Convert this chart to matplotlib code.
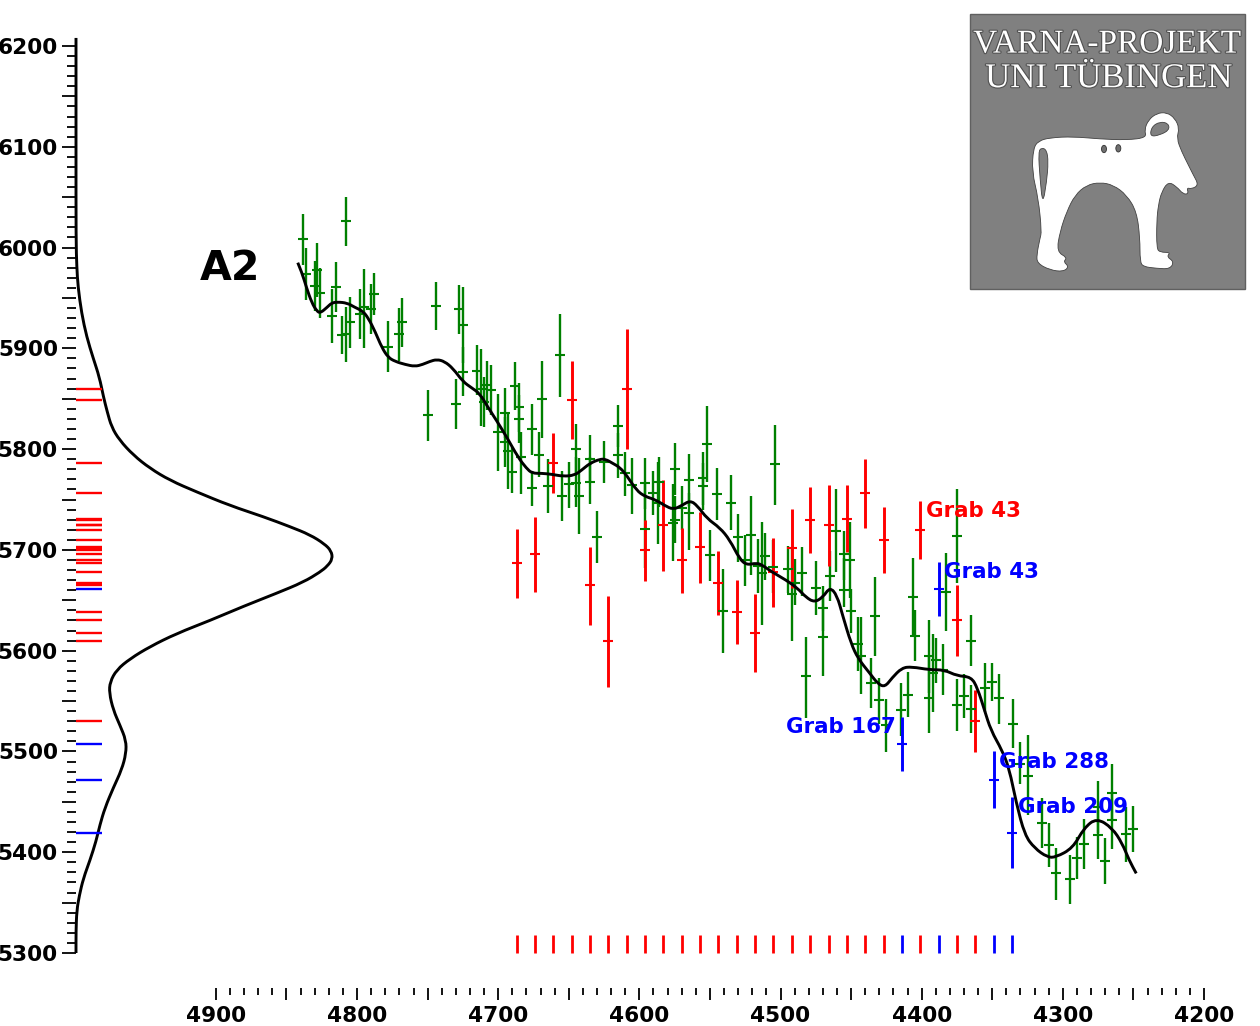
# Varna A2 dates: sequence plot with density curve on the left

import numpy as np
from matplotlib import pyplot as plt
from matplotlib.patches import PathPatch, Rectangle, Ellipse
from matplotlib.path import Path
import matplotlib.patheffects as pe

# green dates: x value, top of bar, point, bottom of bar
green_x = [4838, 4836, 4830, 4828.5, 4826, 4818, 4815, 4811, 4808, 4808, 4805, 4798, 4795, 4790, 4788,
           4778, 4770, 4768, 4750, 4744, 4730, 4728, 4725, 4725, 4715, 4712, 4710, 4708, 4705, 4700,
           4695, 4695, 4693, 4690, 4688, 4685, 4685, 4684, 4676, 4676, 4671, 4669, 4665, 4656.5, 4655,
           4650, 4645, 4645, 4643, 4635, 4635, 4630, 4625, 4615, 4615, 4610, 4605, 4596, 4596, 4590,
           4587, 4586, 4575, 4576, 4575, 4570, 4565, 4565, 4555, 4555, 4552, 4550, 4545, 4541, 4535,
           4530, 4525, 4521, 4516, 4513, 4511, 4504, 4505, 4495, 4492, 4490, 4485, 4482, 4475, 4470,
           4470, 4465, 4461, 4455, 4455, 4451, 4450, 4445, 4443, 4436, 4433, 4430, 4425, 4415, 4410,
           4406, 4405, 4395, 4395, 4392, 4390, 4385, 4383, 4375, 4375, 4370, 4365, 4365, 4355, 4350,
           4345, 4335, 4330, 4325, 4315, 4310, 4305, 4295, 4290, 4285, 4275, 4275, 4270, 4265, 4265,
           4255, 4250]
green_hi = [6033, 6000, 5987, 6005, 5980, 5959, 5986, 5932, 6050, 5941, 5951, 5959, 5979, 5964, 5975,
            5927, 5940, 5950, 5859, 5966, 5870, 5963, 5961, 5901, 5903, 5899, 5872, 5887, 5883, 5855,
            5861, 5832, 5836, 5802, 5886, 5866, 5854, 5817, 5845, 5778, 5817, 5887, 5790, 5934, 5778,
            5787, 5825, 5792, 5791, 5814, 5792, 5739, 5808, 5844, 5816, 5797, 5791, 5791, 5766, 5778,
            5787, 5792, 5806, 5765, 5753, 5763, 5795, 5756, 5797, 5786, 5843, 5720, 5781, 5681, 5774,
            5736, 5715, 5753, 5711, 5728, 5717, 5824, 5710, 5704, 5703, 5691, 5703, 5614, 5689, 5664,
            5653, 5699, 5760, 5719, 5692, 5728, 5661, 5633, 5633, 5593, 5673, 5573, 5552, 5568, 5579,
            5692, 5640, 5630, 5594, 5617, 5613, 5607, 5697, 5760, 5572, 5577, 5635, 5566, 5588, 5588,
            5577, 5552, 5509, 5516, 5454, 5429, 5404, 5397, 5415, 5433, 5471, 5442, 5414, 5488, 5459,
            5445, 5446]
green_mid = [6008, 5974, 5962, 5978, 5955, 5932, 5961, 5913, 6026, 5914, 5926, 5934, 5941, 5939, 5954,
             5901, 5914, 5926, 5834, 5942, 5845, 5939, 5923, 5877, 5878, 5860, 5847, 5864, 5859, 5817,
             5836, 5807, 5798, 5777, 5863, 5842, 5830, 5792, 5820, 5761, 5794, 5850, 5763, 5893, 5753,
             5765, 5800, 5766, 5753, 5790, 5767, 5713, 5787, 5823, 5794, 5776, 5764, 5766, 5721, 5756,
             5747, 5767, 5780, 5727, 5730, 5742, 5769, 5737, 5771, 5763, 5805, 5695, 5755, 5639, 5747,
             5713, 5690, 5715, 5684, 5677, 5694, 5785, 5683, 5681, 5656, 5667, 5677, 5575, 5662, 5642,
             5614, 5674, 5719, 5696, 5660, 5690, 5639, 5607, 5595, 5568, 5634, 5551, 5526, 5541, 5556,
             5653, 5615, 5595, 5553, 5578, 5591, 5581, 5658, 5714, 5546, 5555, 5610, 5542, 5563, 5569,
             5553, 5527, 5488, 5476, 5429, 5407, 5379, 5373, 5394, 5408, 5445, 5417, 5391, 5459, 5432,
             5418, 5423]
green_lo = [5983, 5948, 5937, 5951, 5930, 5905, 5936, 5894, 6002, 5886, 5900, 5909, 5900, 5914, 5933,
            5877, 5887, 5901, 5808, 5918, 5820, 5914, 5885, 5853, 5854, 5823, 5822, 5839, 5834, 5778,
            5811, 5782, 5760, 5756, 5839, 5817, 5806, 5755, 5794, 5744, 5772, 5811, 5737, 5852, 5729,
            5742, 5775, 5743, 5716, 5766, 5746, 5687, 5766, 5802, 5771, 5753, 5736, 5741, 5682, 5735,
            5706, 5743, 5754, 5689, 5707, 5720, 5744, 5700, 5745, 5740, 5767, 5669, 5730, 5598, 5720,
            5688, 5664, 5675, 5657, 5625, 5670, 5745, 5657, 5657, 5610, 5645, 5654, 5533, 5635, 5620,
            5575, 5649, 5678, 5670, 5643, 5652, 5618, 5580, 5557, 5543, 5595, 5527, 5499, 5515, 5534,
            5614, 5590, 5558, 5518, 5539, 5568, 5556, 5620, 5667, 5520, 5533, 5585, 5518, 5539, 5550,
            5527, 5503, 5468, 5437, 5404, 5385, 5353, 5349, 5373, 5383, 5419, 5393, 5368, 5432, 5403,
            5390, 5400]

# red and blue graves, these also give the rugs on both axes
red_x = [4687, 4674, 4661, 4648, 4635, 4622, 4609, 4596, 4583, 4570, 4557, 4544, 4531, 4518, 4505,
         4492, 4479, 4466, 4453, 4440, 4427, 4401, 4375, 4362]
red_hi = [5721, 5733, 5816, 5887, 5703, 5654, 5919, 5730, 5769, 5722, 5738, 5699, 5670, 5656, 5712,
          5741, 5762, 5764, 5764, 5790, 5743, 5749, 5665, 5561]
red_mid = [5687, 5696, 5786, 5849, 5665, 5610, 5860, 5700, 5725, 5690, 5703, 5667, 5638, 5618, 5678,
           5702, 5730, 5725, 5731, 5756, 5710, 5720, 5630, 5530]
red_lo = [5652, 5658, 5756, 5810, 5625, 5564, 5800, 5669, 5679, 5657, 5667, 5635, 5607, 5579, 5643,
          5662, 5697, 5684, 5698, 5722, 5677, 5691, 5595, 5499]

blue_x = [4414, 4388, 4349, 4336]
blue_hi = [5534, 5688, 5500, 5455]
blue_mid = [5507, 5661, 5472, 5419]
blue_lo = [5481, 5634, 5444, 5384]

# black sequence curve
curve_x = [4842, 4839, 4836, 4832, 4828.5, 4826, 4821, 4818, 4814, 4807, 4802, 4796, 4792, 4787, 4782.5,
           4778, 4773, 4766, 4759, 4753.5, 4748.5, 4743.5, 4738, 4732, 4725, 4719, 4713, 4707.5, 4701, 4694,
           4686, 4680, 4676, 4669, 4662, 4654, 4646, 4641, 4635, 4628, 4624, 4619, 4614, 4609, 4602,
           4596, 4589, 4582, 4576, 4570, 4564, 4559, 4552, 4543, 4536, 4529, 4524, 4517, 4513, 4506,
           4496, 4488, 4482, 4476, 4470, 4465, 4460, 4456, 4450, 4445, 4437, 4431, 4426, 4421, 4414,
           4407, 4394.5, 4384, 4375, 4365, 4360.5, 4355.5, 4351, 4343, 4338, 4333, 4327, 4320, 4311, 4305,
           4293, 4285, 4276, 4265, 4258, 4253, 4248]
curve_y = [5985, 5975, 5961, 5945, 5937, 5935, 5941, 5945, 5946, 5945, 5941, 5937, 5930, 5916, 5901,
           5891, 5887, 5884, 5882, 5884, 5887, 5889, 5887, 5880, 5867, 5861, 5855, 5842, 5828, 5812,
           5792, 5781, 5776, 5776, 5775, 5773, 5774, 5779, 5786, 5790, 5790, 5786, 5782, 5774, 5759,
           5753, 5750, 5744, 5740, 5744, 5749, 5744, 5731, 5722, 5710, 5691, 5685, 5687, 5685, 5678,
           5670, 5662, 5653, 5648, 5653, 5663, 5655, 5635, 5607, 5592, 5578, 5567, 5564, 5573, 5583,
           5584, 5581, 5581, 5575, 5574, 5563, 5541, 5521, 5501, 5483, 5449, 5417, 5404, 5395, 5395,
           5404, 5424, 5434, 5424, 5409, 5392, 5379]

# density curve on the left, peak = 1
dens_y = [6208, 6100, 6008, 5981, 5961, 5935, 5911.5, 5890, 5871.5, 5852, 5837, 5822, 5809, 5794, 5781,
          5769, 5757.5, 5744, 5733, 5723, 5715, 5706, 5699, 5691, 5684, 5678, 5668, 5657, 5644, 5630, 5617,
          5604, 5592, 5581, 5569, 5558, 5541, 5526, 5511, 5498, 5482, 5464, 5444, 5427, 5411, 5392,
          5374, 5357, 5342, 5322, 5300]
dens_v = [0, 0, 0, .003, .008, .022, .042, .068, .092, .108, .123, .14, .171, .226, .291,
          .37, .475, .606, .737, .843, .921, .978, 1.005, 1.01, .99, .961, .895, .79, .659, .528, .396,
          .291, .213, .16, .134, .131, .147, .173, .197, .197, .18, .147, .114, .094, .079, .055,
          .029, .013, .003, 0, 0]

x_ticks = list(range(4900, 4199, -50))
x_labels = [str(v) if v % 100 == 0 else '' for v in x_ticks]
y_ticks = list(range(5300, 6201, 50))
y_labels = [str(v) if v % 100 == 0 else '' for v in y_ticks]

grabs = ['Grab 43', 'Grab 43', 'Grab 167', 'Grab 288', 'Grab 209']
grab_x = [4396.6, 4384, 4496, 4345, 4332]
grab_y = [5739, 5678, 5524, 5490, 5445]
grab_col = ['red', 'blue', 'blue', 'blue', 'blue']

plt.rcParams['font.family'] = 'DejaVu Sans'
plt.rcParams['font.weight'] = 'bold'

W, H = 1260, 1026
fig = plt.figure(figsize=(W / 100, H / 100), dpi=100)


def box(left, top, right, bottom):
    # figure fractions from pixel edges
    return [left / W, 1 - bottom / H, (right - left) / W, (bottom - top) / H]


def soft_line(axes, xs, ys, closed=False, **kw):
    # draw through the points with quadratic pieces so no corners show
    pts = list(zip(xs, ys))
    if closed:
        pts = pts + pts[:2]
    mids = [((a[0] + b[0]) / 2, (a[1] + b[1]) / 2) for a, b in zip(pts[:-1], pts[1:])]
    start = mids[0] if closed else pts[0]
    verts = [start]
    codes = [Path.MOVETO]
    for p, m in zip(pts[1:-1], mids[1:]):
        verts += [p, m]
        codes += [Path.CURVE3, Path.CURVE3]
    if not closed:
        verts.append(pts[-1])
        codes.append(Path.LINETO)
    axes.add_patch(PathPatch(Path(verts, codes), **kw))


ax = fig.add_axes(box(76, 38, 1204, 988))
ax.set_xlim(4999.1, 4200)
ax.set_ylim(5265.27, 6207.94)
ax.patch.set_alpha(0)
for s in ax.spines.values():
    s.set_visible(False)


def bars(x, hi, mid, lo, col, lw):
    mid = np.array(mid)
    err = [mid - np.array(lo), np.array(hi) - mid]
    ax.errorbar(x, mid, yerr=err, fmt='_', color=col, ecolor=col, elinewidth=lw,
                markersize=6.5, markeredgewidth=1.5, capsize=0, zorder=2)


bars(green_x, green_hi, green_mid, green_lo, 'green', 1.7)
bars(red_x, red_hi, red_mid, red_lo, 'red', 2.1)
bars(blue_x, blue_hi, blue_mid, blue_lo, 'blue', 2.1)
soft_line(ax, curve_x, curve_y, fc='none', ec='black', lw=2.1, zorder=3)

# rug along the bottom
ax.vlines(red_x, 5300, 5318, color='red', lw=2.0)
ax.vlines(blue_x, 5300, 5318, color='blue', lw=2.0)

ax.set_xticks(x_ticks, x_labels)
ax.set_xticks(np.arange(4200, 4901, 10), minor=True)
ax.set_yticks(y_ticks, y_labels)
ax.set_yticks(np.arange(5300, 6201, 10), minor=True)
ax.tick_params(axis='x', which='major', length=8.6, width=1.3, pad=4.5, labelsize=15.6)
ax.tick_params(axis='x', which='minor', length=5, width=1.3)
ax.tick_params(axis='y', which='major', length=10, width=1.3, pad=3, labelsize=15.6)
ax.tick_params(axis='y', which='minor', length=6.5, width=1.3)

for t, gx, gy, c in zip(grabs, grab_x, grab_y, grab_col):
    ax.text(gx, gy, t, color=c, fontsize=15.4, ha='left', va='center', zorder=4)
ax.text(4890, 5979, 'A2', fontsize=29.6, ha='center', va='center')

# density panel, same y scale as the main axes
ax_d = fig.add_axes(box(76, 38, 330, 988))
ax_d.set_xlim(0, 1)
ax_d.set_ylim(5265.27, 6207.94)
ax_d.axis('off')
ax_d.hlines(red_mid, 0, 0.102, color='red', lw=1.7)
ax_d.hlines(blue_mid, 0, 0.102, color='blue', lw=1.7)
soft_line(ax_d, dens_v, dens_y, fc='none', ec='black', lw=2.1, clip_on=False)

# logo top right
logo = fig.add_axes(box(960, 5, 1255, 300))
logo.set_xlim(0, 885)
logo.set_ylim(885, 0)
logo.axis('off')
logo.add_patch(Rectangle((30, 28), 825, 825, fc='#808080', ec='#606060', lw=1))
body_x = [220, 235, 270, 340, 420, 500, 560, 553, 565, 590, 620, 645, 658, 650, 665, 685, 700, 716, 695, 680,
          686, 670, 650, 625, 605, 595, 590, 590, 600, 632, 620, 642, 630, 590, 550, 540, 540, 530, 500, 460,
          420, 380, 345, 320, 300, 290, 322, 310, 327, 310, 270, 232, 230, 240, 245, 235, 216]
body_y = [430, 408, 398, 395, 402, 405, 398, 375, 345, 325, 322, 340, 370, 400, 440, 480, 510, 540, 552, 548,
          566, 568, 545, 530, 560, 600, 650, 730, 742, 742, 755, 770, 792, 790, 785, 770, 700, 620, 570, 540,
          532, 540, 570, 620, 680, 740, 758, 770, 785, 800, 795, 775, 750, 700, 680, 580, 500]
soft_line(logo, body_x, body_y, closed=True, fc='white', ec='#404040', lw=0.6)
soft_line(logo, [570, 575, 600, 625, 628, 600], [395, 365, 350, 355, 375, 390], closed=True,
          fc='#808080', ec='#404040', lw=0.6)
soft_line(logo, [235, 245, 260, 265, 260, 248, 240], [440, 428, 435, 470, 530, 600, 520], closed=True,
          fc='#808080', ec='#404040', lw=0.6)
logo.add_patch(Ellipse((432, 432), 15, 22, fc='#707070', ec='#303030', lw=0.6))
logo.add_patch(Ellipse((475, 430), 15, 22, fc='#707070', ec='#303030', lw=0.6))
shadow = [pe.Stroke(linewidth=1.6, foreground='#505050'), pe.Normal()]
logo.text(442, 118, 'VARNA-PROJEKT', family='Liberation Serif', weight='normal', fontsize=24,
          color='white', ha='center', va='center', path_effects=shadow)
logo.text(447, 221, 'UNI TÜBINGEN', family='Liberation Serif', weight='normal', fontsize=25,
          color='white', ha='center', va='center', path_effects=shadow)

fig.savefig('out.png', dpi=100)
